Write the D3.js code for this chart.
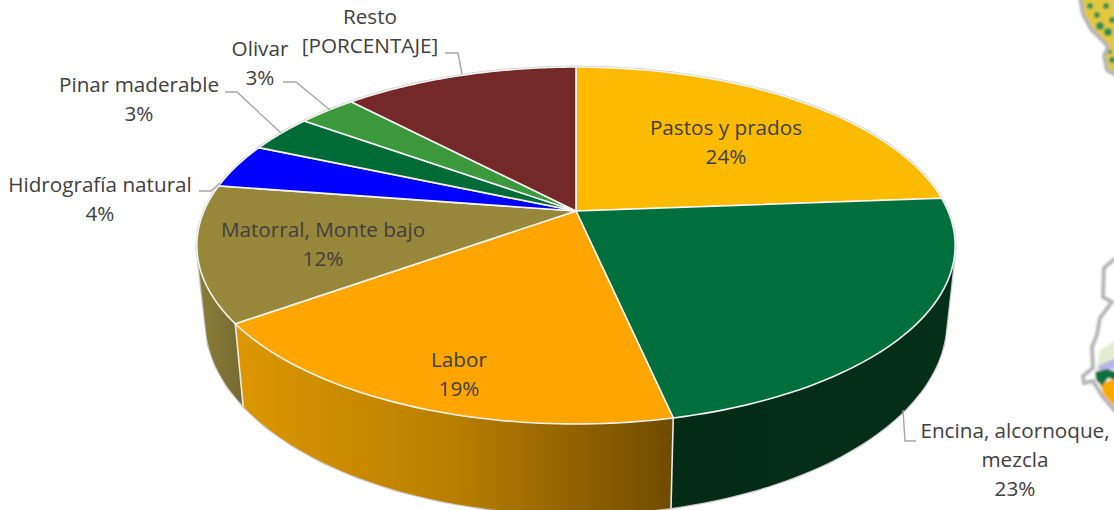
<!DOCTYPE html>
<html><head><meta charset="utf-8">
<script src="https://cdn.jsdelivr.net/npm/d3@7"></script>
<style>html,body{margin:0;padding:0;background:#fff;overflow:hidden}svg{display:block}text{font-family:"Open Sans",sans-serif;font-size:20.7px;fill:#404040;text-anchor:middle}</style>
</head><body><script>
const categories = ["Pastos y prados","Encina, alcornoque, mezcla","Labor","Matorral, Monte bajo","Hidrografía natural","Pinar maderable","Olivar","Resto"];
const shares = [23.8,22.8,18.5,12.3,4.1,3.4,3.0,12.1];
const valueTexts = [null,null,null,null,null,null,null,"[PORCENTAJE]"];
const sliceColors = ["#fdbb00","#006f3e","#fea500","#96873a","#0000ff","#006b36","#3b983c","#752828"];
const labelLines = [["Pastos y prados"],["Encina, alcornoque,","mezcla"],["Labor"],["Matorral, Monte bajo"],["Hidrografía natural"],["Pinar maderable"],["Olivar"],["Resto"]];
const labelAnchors = [[726,128],[1015,431],[459,360],[323,230],[100,185],[139,85],[260,49],[370,17]];
const labelGap = 29;
const leaders = [null,[[903,410],[905,441],[916,441]],null,null,[[199,191],[211,191],[220,183]],[[225,92],[237,92],[281,133]],[[283,82],[296,82],[330,110]],[[445,53],[458,53],[462,74]]];

const W=1114,H=510;
const svg=d3.select("body").append("svg").attr("width",W).attr("height",H);
const defs=svg.append("defs");
function grad(id,stops){const g=defs.append("linearGradient").attr("id",id).attr("gradientUnits","userSpaceOnUse").attr("x1",stops.x1).attr("x2",stops.x2).attr("y1",0).attr("y2",0);
 stops.c.forEach((c,i)=>g.append("stop").attr("offset",i/(stops.c.length-1)).attr("stop-color",c));}
grad("wallLabor",{x1:240,x2:675,c:["#dc9700","#b87e00","#6f4a00"]});
grad("wallMat",{x1:200,x2:245,c:["#8a7d38","#736a30"]});
grad("wallEnc",{x1:672,x2:950,c:["#032b16","#042f18"]});
defs.append("filter").attr("id","soft").append("feGaussianBlur").attr("stdDeviation",0.9);
const wallFill={1:"url(#wallEnc)",2:"url(#wallLabor)",3:"url(#wallMat)"};

// perspective projection of the pie disc
const cx=576,cy=211,A=171.8,B=372,k=0.1933,depth=73,shrink=0.977;
function proj(theta,r,z){
  const den=1+k*r*Math.cos(theta);
  const sc=1-(1-shrink)*z;
  return [cx+sc*B*r*Math.sin(theta)/den, cy-A*r*Math.cos(theta)/den+z*depth/den];
}
const line=d3.line();
const arcPts=(a0,a1,z)=>d3.range(0,61).map(i=>proj(a0+(a1-a0)*i/60,1,z));
const arcs=d3.pie().sort(null).value(d=>d)(shares);

const g=svg.append("g");
// silhouette
const allPts=arcPts(0,2*Math.PI,0).concat(arcPts(0,2*Math.PI,1));
g.append("path").attr("d",line(d3.polygonHull(allPts))+"Z").attr("fill","#fff").attr("stroke","#c9c9c9").attr("stroke-width",3);
// outer walls (hull also fills the tangent run beside the rim)
[3,2,1].forEach(i=>{
  const a=arcs[i];
  const pts=arcPts(a.startAngle,a.endAngle,0).concat(arcPts(a.endAngle,a.startAngle,1));
  g.append("path").attr("d",line(d3.polygonHull(pts))+"Z").attr("fill",wallFill[i]);
});
// wall separators
[arcs[1].endAngle,arcs[2].endAngle].forEach(t=>{
  g.append("path").attr("d",line([proj(t,1,0),proj(t,1,1)])).attr("stroke","#e8e8e8").attr("stroke-width",1.6).attr("fill","none");
});
// top faces
arcs.forEach((a,i)=>{
  const pts=[[cx,cy]].concat(arcPts(a.startAngle,a.endAngle,0));
  g.append("path").attr("d",line(pts)+"Z").attr("fill",sliceColors[i]).attr("stroke","#f4f4f4").attr("stroke-width",1.6).attr("stroke-linejoin","round");
});

// leader lines
leaders.forEach(l=>{ if(l) svg.append("path").attr("d",line(l)).attr("fill","none").attr("stroke","#a6a6a6").attr("stroke-width",1.4); });

// labels
categories.forEach((c,i)=>{
  const [x,y]=labelAnchors[i];
  const rows=labelLines[i].concat([valueTexts[i]||d3.format(".0f")(shares[i])+"%"]);
  const t=svg.append("text").attr("x",x).attr("y",y);
  rows.forEach((r,j)=>t.append("tspan").attr("x",x).attr("y",y+j*labelGap+7).text(r));
});

// map fragments cropped at the right edge (decorative background picture)
const mapTop=[[1080,-3],[1083,14],[1091,29],[1104,42],[1108,47],[1104,56],[1107,70],[1116,75],[1116,-3]];
const mapLow=[[1116,258],[1104,268],[1103,297],[1112,302],[1100,318],[1097,335],[1092,347],[1093,368],[1083,376],[1084,383],[1093,381],[1103,397],[1116,412]];
const maps=svg.append("g").attr("filter","url(#soft)");
maps.append("path").attr("d",line(mapTop)).attr("fill","#e2c83c").attr("stroke","#b5b5b5").attr("stroke-width",4);
const spotsTop=[[1090,6,3],[1097,15,3],[1100,26,4],[1108,32,4],[1112,20,3],[1106,6,3],[1112,60,3],[1110,52,2]];
maps.selectAll(".s").data(spotsTop).enter().append("circle").attr("cx",d=>d[0]).attr("cy",d=>d[1]).attr("r",d=>d[2]).attr("fill","#2f9058");
maps.append("path").attr("d",line(mapLow)).attr("fill","#fff").attr("stroke","#b5b5b5").attr("stroke-width",4);
const lowPale=[[1100,350],[1116,340],[1116,372],[1096,372]];
maps.append("path").attr("d",line(lowPale)+"Z").attr("fill","#e6ecd2");
const lowBlue=[[1098,366],[1116,358],[1116,368],[1100,372]];
maps.append("path").attr("d",line(lowBlue)+"Z").attr("fill","#b6b6ea");
const lowOrange=[[1116,378],[1100,384],[1104,395],[1116,408]];
maps.append("path").attr("d",line(lowOrange)+"Z").attr("fill","#fba800");
const lowGreen=[[1095,372],[1107,369],[1116,372],[1116,380],[1108,378],[1102,386],[1096,380]];
maps.append("path").attr("d",line(lowGreen)+"Z").attr("fill","#11703f");
</script></body></html>
